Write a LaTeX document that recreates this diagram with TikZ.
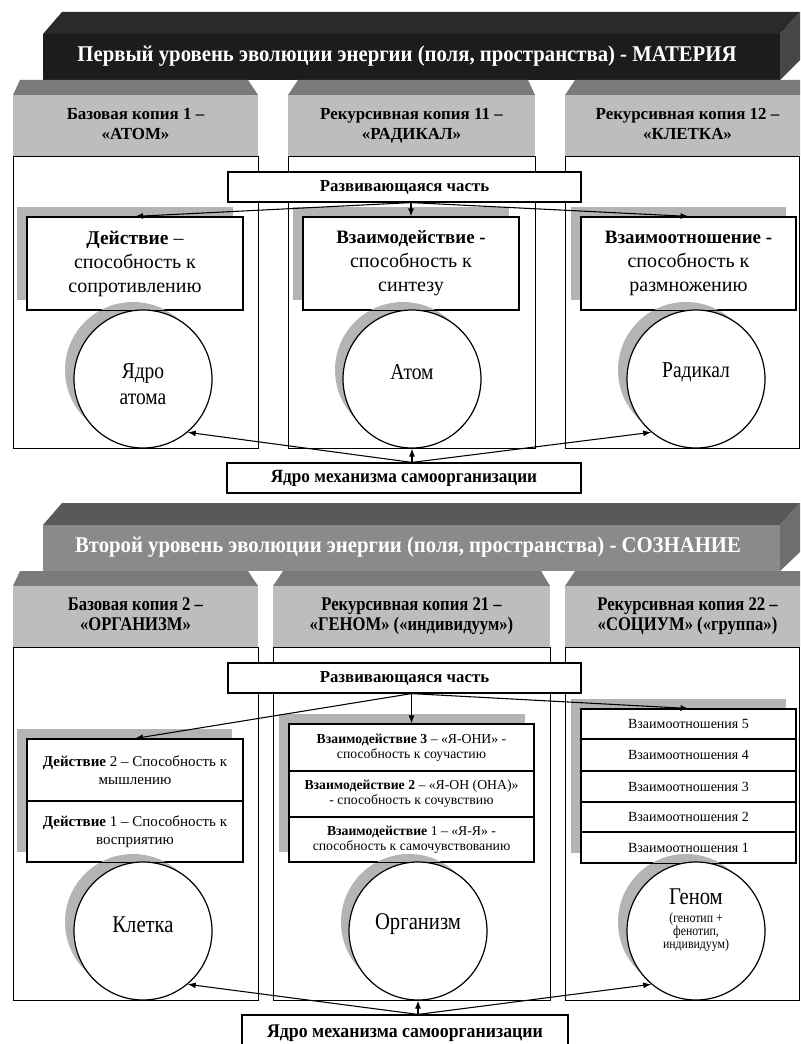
\documentclass[tikz,border=0pt]{standalone}
\usepackage{fontspec}
\setmainfont{Liberation Serif}
\newfontfamily\cond[FakeStretch=0.86]{Liberation Serif}
\newfontfamily\condb[FakeStretch=0.92]{Liberation Serif}
\usetikzlibrary{arrows.meta,calc}
\definecolor{bantopA}{HTML}{2A2A2A}
\definecolor{banfrontA}{HTML}{1C1C1C}
\definecolor{bansideA}{HTML}{474747}
\definecolor{bantopB}{HTML}{595959}
\definecolor{banfrontB}{HTML}{8A8A8A}
\definecolor{bansideB}{HTML}{6E6E6E}
\definecolor{hdtop}{HTML}{7A7A7A}
\definecolor{hdbody}{HTML}{BDBDBD}
\definecolor{shadowgray}{HTML}{B4B4B4}
\begin{document}
\begin{tikzpicture}[x=0.75pt,y=-0.75pt,
  sz/.style 2 args={minimum width=#1*0.75pt, minimum height=#2*0.75pt},
  box/.style={draw=black, line width=0.9pt, fill=white, inner sep=0pt, align=center},
  cell/.style={draw=black, line width=0.8pt, fill=white, inner sep=0pt, align=center},
  colbox/.style={draw=black, line width=0.7pt},
  hdr/.style={fill=hdbody, inner sep=0pt, align=center, font=\bfseries\fontsize{12.7}{15}\selectfont},
  hdrB/.style={fill=hdbody, inner sep=0pt, align=center, font=\cond\bfseries\fontsize{14.5}{15}\selectfont},
  circ/.style={circle, draw=black, line width=0.9pt, fill=white, minimum size=103.5pt, inner sep=0pt},
  circshadow/.style={circle, fill=shadowgray, minimum size=102pt, inner sep=0pt},
  ctext/.style={align=center, font=\cond\fontsize{17}{19.5}\selectfont, inner sep=0pt},
  arr/.style={line width=0.8pt, -{Latex[length=6pt,width=4.5pt]}},
  bantext/.style={font=\condb\bfseries\fontsize{16.9}{18}\selectfont, text=white},
  devtext/.style={font=\bfseries\fontsize{12.6}{14}\selectfont},
  boxtext/.style={font=\fontsize{15}{18}\selectfont},
  boldhead/.style={},
]
\clip (0,0) rectangle (800,1044);
\fill[white] (0,0) rectangle (800,1044);

%================ TOP LEVEL =================
\fill[bantopA] (43,34) -- (62,12) -- (800,12) -- (780,34) -- cycle;
\fill[banfrontA] (43,34) rectangle (780,80);
\fill[bansideA] (780,34) -- (800,12) -- (800,60) -- (780,80) -- cycle;
\node[bantext] (lvl1) at (407,56)
  {Первый уровень эволюции энергии (поля, пространства) - МАТЕРИЯ};

% headers
\fill[hdtop] (13,95) -- (20,80) -- (248,80) -- (258,95) -- cycle;
\fill[hdtop] (288,95) -- (298,80) -- (528,80) -- (535,95) -- cycle;
\fill[hdtop] (565,95) -- (575,80) -- (810,80) -- (810,95) -- cycle;
\node[hdr, sz={245}{61}] (h11) at (135.5,125.5) {\strut Базовая копия 1 –\\\strut«АТОМ»};
\node[hdr, sz={247}{61}] (h12) at (411.5,125.5) {\strut Рекурсивная копия 11 –\\\strut«РАДИКАЛ»};
\node[hdr, sz={245}{61}] (h13) at (687.5,125.5) {\strut Рекурсивная копия 12 –\\\strut«КЛЕТКА»};

% column boxes
\draw[colbox] (13,156) rectangle (258,448);
\draw[colbox] (288,156) rectangle (535,448);
\draw[colbox] (565,156) rectangle (799,448);

% developing part
\node[box, sz={353}{30}, devtext] (dev1) at (404.5,187) {Развивающаяся часть};

% shadows of boxes
\fill[shadowgray] (17,207) rectangle (233,300);
\fill[shadowgray] (293,207) rectangle (509,300);
\fill[shadowgray] (571,207) rectangle (786,300);

\node[box, sz={216}{93}, boxtext] (a1) at (135,263.5)
  {{\fontsize{14.6}{18}\selectfont\bfseries Действие} –\\способность к\\сопротивлению};
\node[box, sz={216}{93}, boxtext] (a2) at (411,263.5)
  {{\fontsize{14.2}{18}\selectfont\bfseries Взаимодействие -}\\способность к\\синтезу};
\node[box, sz={215}{93}, boxtext] (a3) at (688.5,263.5)
  {{\fontsize{14.2}{18}\selectfont\bfseries Взаимоотношение -}\\способность к\\размножению};

% circle shadows
\node[circshadow] (s11) at (133,370) {};
\node[circshadow] (s12) at (403,370) {};
\node[circshadow] (s13) at (686,370) {};
\draw[line width=0.9pt] (a1.south west) -- (a1.south east);
\draw[line width=0.9pt] (a2.south west) -- (a2.south east);
\draw[line width=0.9pt] (a3.south west) -- (a3.south east);

\node[circ] (c11) at (143,379) {};
\node[circ] (c12) at (412,379) {};
\node[circ] (c13) at (696,379) {};
\node[ctext] (t11) at (143,384) {Ядро\\атома};
\node[ctext] (t12) at (412,372) {Атом};
\node[ctext] (t13) at (696,372) {Радикал};

\node[box, sz={354}{30}, font=\condb\bfseries\fontsize{14}{16}\selectfont] (core1) at (404,478) {Ядро механизма самоорганизации};

\draw[arr] (dev1.south -| a2.north) -- (a1.north);
\draw[arr] (dev1.south -| a2.north) -- (a2.north);
\draw[arr] (dev1.south -| a2.north) -- (a3.north);
\draw[arr] (core1.north -| c12.south) -- (c11.-50);
\draw[arr] (core1.north -| c12.south) -- (c12.south);
\draw[arr] (core1.north -| c12.south) -- (c13.230);

%================ SECOND LEVEL =================
\fill[bantopB] (43,525) -- (62,503) -- (800,503) -- (780,525) -- cycle;
\fill[banfrontB] (43,525) rectangle (780,571);
\fill[bansideB] (780,525) -- (800,503) -- (800,552) -- (780,571) -- cycle;
\node[bantext] (lvl2) at (408,547)
  {Второй уровень эволюции энергии (поля, пространства) - СОЗНАНИЕ};

\fill[hdtop] (13,586) -- (20,571) -- (248,571) -- (258,586) -- cycle;
\fill[hdtop] (273,586) -- (283,571) -- (541,571) -- (550,586) -- cycle;
\fill[hdtop] (565,586) -- (575,571) -- (810,571) -- (810,586) -- cycle;
\node[hdrB, sz={245}{61}] (h21) at (135.5,616.5) {\strut Базовая копия 2 –\\\strut«ОРГАНИЗМ»};
\node[hdrB, sz={277}{61}] (h22) at (411.5,616.5) {\strut Рекурсивная копия 21 –\\\strut«ГЕНОМ» («индивидуум»)};
\node[hdrB, sz={245}{61}] (h23) at (687.5,616.5) {\strut Рекурсивная копия 22 –\\\strut«СОЦИУМ» («группа»)};

\draw[colbox] (13,647) rectangle (258,1000);
\draw[colbox] (273,647) rectangle (550,1000);
\draw[colbox] (565,647) rectangle (799,1000);

\node[box, sz={353}{30}, devtext] (dev2) at (404.5,678) {Развивающаяся часть};

\fill[shadowgray] (17,729) rectangle (232,852);
\fill[shadowgray] (279,714) rectangle (525,852);
\fill[shadowgray] (571,699) rectangle (786,853);

\node[cell, sz={216}{62}, font=\fontsize{11.25}{13.5}\selectfont] (L2) at (135,770)
  {\textbf{Действие} 2 – Способность к\\мышлению};
\node[cell, sz={216}{61}, font=\fontsize{11.25}{13.5}\selectfont] (L1) at (135,831.5)
  {\textbf{Действие} 1 – Способность к\\восприятию};

\node[cell, sz={245}{47}, font=\fontsize{10.3}{11}\selectfont] (M3) at (411.5,747.5)
  {\textbf{Взаимодействие 3} – «Я-ОНИ» -\\способность к соучастию};
\node[cell, sz={245}{46}, font=\fontsize{10.3}{11}\selectfont] (M2) at (411.5,794)
  {\textbf{Взаимодействие 2} – «Я-ОН (ОНА)»\\- способность к сочувствию};
\node[cell, sz={245}{45}, font=\fontsize{10.3}{11}\selectfont] (M1) at (411.5,839.5)
  {\textbf{Взаимодействие} 1 – «Я-Я» -\\способность к самочувствованию};

\node[cell, sz={215}{30}, font=\fontsize{10.5}{12}\selectfont] (R5) at (688.5,724) {Взаимоотношения 5};
\node[cell, sz={215}{32}, font=\fontsize{10.5}{12}\selectfont] (R4) at (688.5,755) {Взаимоотношения 4};
\node[cell, sz={215}{31}, font=\fontsize{10.5}{12}\selectfont] (R3) at (688.5,786.5) {Взаимоотношения 3};
\node[cell, sz={215}{30}, font=\fontsize{10.5}{12}\selectfont] (R2) at (688.5,817) {Взаимоотношения 2};
\node[cell, sz={215}{31}, font=\fontsize{10.5}{12}\selectfont] (R1) at (688.5,847.5) {Взаимоотношения 1};

\node[circshadow] (s21) at (133,922) {};
\node[circshadow] (s22) at (409,922) {};
\node[circshadow] (s23) at (686,922) {};
\draw[line width=0.8pt] (L1.south west) -- (L1.south east);
\draw[line width=0.8pt] (M1.south west) -- (M1.south east);
\draw[line width=0.8pt] (R1.south west) -- (R1.south east);

\node[circ] (c21) at (143,931) {};
\node[circ] (c22) at (418,931) {};
\node[circ] (c23) at (696,931) {};
\node[ctext, font=\cond\fontsize{18}{20}\selectfont] (t21) at (143,925) {Клетка};
\node[ctext, font=\cond\fontsize{18}{20}\selectfont] (t22) at (418,924) {Организм};
\node[ctext, font=\cond\fontsize{18}{20}\selectfont] (t23a) at (696,897) {Геном};
\node[ctext, font=\cond\fontsize{10.3}{9.6}\selectfont] (t23b) at (696,932) {(генотип +\\фенотип,\\индивидуум)};

\node[box, sz={326}{36}, font=\condb\bfseries\fontsize{14.5}{16}\selectfont] (core2) at (405,1033) {Ядро механизма самоорганизации};

\draw[arr] (dev2.south -| M3.north) -- (L2.north);
\draw[arr] (dev2.south -| M3.north) -- (M3.north);
\draw[arr] (dev2.south -| M3.north) -- (R5.north);
\draw[arr] (core2.north -| c22.south) -- (c21.-50);
\draw[arr] (core2.north -| c22.south) -- (c22.south);
\draw[arr] (core2.north -| c22.south) -- (c23.230);
\end{tikzpicture}
\end{document}
